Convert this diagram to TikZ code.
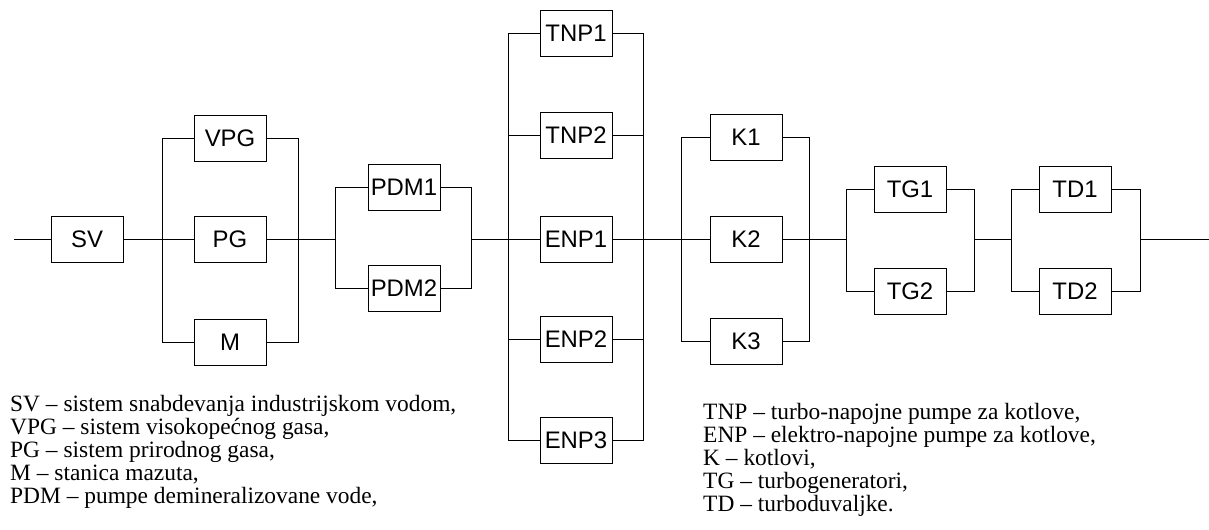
\documentclass[tikz,border=0pt]{standalone}
\usepackage{fontspec}
\setmainfont{Liberation Serif}
\newfontfamily\boxfont{Liberation Sans}
\begin{document}
\begin{tikzpicture}[x=1bp,y=-1bp,
  blk/.style={draw,line width=0.9bp,minimum width=72bp,minimum height=46bp,inner sep=0pt,
    font=\boxfont\fontsize{24}{28}\selectfont},
  wire/.style={line width=0.9bp},
  leg/.style={anchor=base west,inner sep=0pt,font=\fontsize{23.5}{26}\selectfont}]
\useasboundingbox (0,0) rectangle (1209,530);
% nodes
\node[blk] (SV)  at (87,239) {SV};
\node[blk] (VPG) at (230,138) {VPG};
\node[blk] (PG)  at (230,239) {PG};
\node[blk] (M)   at (230,342) {M};
\node[blk] (PDM1) at (404,187) {PDM1};
\node[blk] (PDM2) at (404,288) {PDM2};
\node[blk] (TNP1) at (576,33) {TNP1};
\node[blk] (TNP2) at (576,135) {TNP2};
\node[blk] (ENP1) at (576,239) {ENP1};
\node[blk] (ENP2) at (576,339) {ENP2};
\node[blk] (ENP3) at (576,440) {ENP3};
\node[blk] (K1) at (746,137) {K1};
\node[blk] (K2) at (746,239) {K2};
\node[blk] (K3) at (746,341) {K3};
\node[blk] (TG1) at (910,189) {TG1};
\node[blk] (TG2) at (910,291) {TG2};
\node[blk] (TD1) at (1075,189) {TD1};
\node[blk] (TD2) at (1075,291) {TD2};
% junctions
\coordinate (in)  at (14,239);
\coordinate (a1)  at (162,239);
\coordinate (b1)  at (298,239);
\coordinate (a2)  at (335,239);
\coordinate (b2)  at (471,239);
\coordinate (a3)  at (508,239);
\coordinate (b3)  at (643,239);
\coordinate (a4)  at (681,239);
\coordinate (b4)  at (809,239);
\coordinate (a5)  at (846,239);
\coordinate (b5)  at (974,239);
\coordinate (a6)  at (1011,239);
\coordinate (b6)  at (1140,239);
\coordinate (out) at (1209,239);
% series wiring
\draw[wire] (in) -- (SV.west);
\draw[wire] (SV.east) -- (a1);
\draw[wire] (b1) -- (a2);
\draw[wire] (b2) -- (a3);
\draw[wire] (b3) -- (a4);
\draw[wire] (b4) -- (a5);
\draw[wire] (b5) -- (a6);
\draw[wire] (b6) -- (out);
% parallel groups
\foreach \n in {VPG,PG,M} {\draw[wire] (\n.west) -| (a1); \draw[wire] (\n.east) -| (b1);}
\foreach \n in {PDM1,PDM2} {\draw[wire] (\n.west) -| (a2); \draw[wire] (\n.east) -| (b2);}
\foreach \n in {TNP1,TNP2,ENP1,ENP2,ENP3} {\draw[wire] (\n.west) -| (a3); \draw[wire] (\n.east) -| (b3);}
\foreach \n in {K1,K2,K3} {\draw[wire] (\n.west) -| (a4); \draw[wire] (\n.east) -| (b4);}
\foreach \n in {TG1,TG2} {\draw[wire] (\n.west) -| (a5); \draw[wire] (\n.east) -| (b5);}
\foreach \n in {TD1,TD2} {\draw[wire] (\n.west) -| (a6); \draw[wire] (\n.east) -| (b6);}
% legend
\node[leg] (l1) at (10,411) {SV – sistem snabdevanja industrijskom vodom,};
\node[leg] (l2) at (10,434) {VPG – sistem visokopećnog gasa,};
\node[leg] (l3) at (10,457) {PG – sistem prirodnog gasa,};
\node[leg] (l4) at (10,480) {M – stanica mazuta,};
\node[leg] (l5) at (10,503) {PDM – pumpe demineralizovane vode,};
\node[leg] (r1) at (703,419) {TNP – turbo-napojne pumpe za kotlove,};
\node[leg] (r2) at (703,442) {ENP – elektro-napojne pumpe za kotlove,};
\node[leg] (r3) at (703,465) {K – kotlovi,};
\node[leg] (r4) at (703,488) {TG – turbogeneratori,};
\node[leg] (r5) at (703,511) {TD – turboduvaljke.};
\end{tikzpicture}
\end{document}
